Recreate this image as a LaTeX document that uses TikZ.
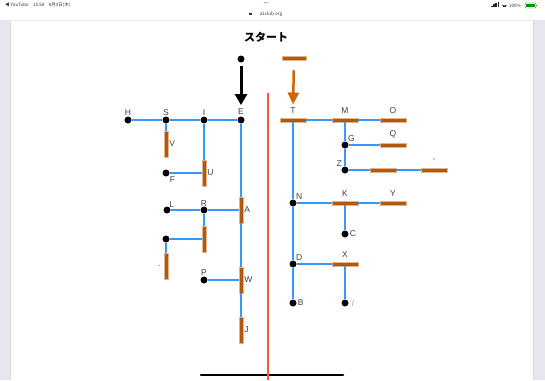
\documentclass[tikz,border=0pt]{standalone}
\usepackage{fontspec}
\setmainfont{Liberation Sans}
\newfontfamily\jpfont{Noto Sans CJK JP}
\usetikzlibrary{arrows.meta}
\definecolor{wireblue}{RGB}{51,153,255}
\definecolor{barbrown}{RGB}{178,90,10}
\definecolor{arroworange}{RGB}{204,102,10}
\definecolor{midred}{RGB}{255,85,51}
\definecolor{sidegray}{RGB}{230,230,236}

\begin{document}
\begin{tikzpicture}[x=1pt, y=-1pt,
    dot/.style={circle, fill=black, inner sep=0pt, minimum size=7pt},
    hbar/.style={rectangle, fill=barbrown, draw=barbrown!45, line width=0.5pt, inner sep=0pt, minimum width=26pt, minimum height=4pt},
    vbar/.style={rectangle, fill=barbrown, draw=barbrown!45, line width=0.5pt, inner sep=0pt, minimum width=4pt, minimum height=26pt},
    wire/.style={wireblue, line width=1.4pt},
    lbl/.style={font=\fontsize{8.5}{9}\selectfont, text=black!75, inner sep=1pt},
    status/.style={font=\jpfont\fontsize{4.5}{5}\selectfont, text=black!80, inner sep=0pt}]
    \useasboundingbox (0,0) rectangle (545,380);
    \fill[white] (0,0) rectangle (545,380);
    % screen frame
    \fill[sidegray] (0,20) rectangle (10,380);
    \fill[sidegray] (533,20) rectangle (545,380);
    \draw[black!15, line width=0.6pt] (10,20) -- (10,380);
    \draw[black!15, line width=0.6pt] (533,20) -- (533,380);
    \draw[black!8, line width=0.5pt] (10,20) -- (533,20);
    \node[status, anchor=west] (bar) at (5,5) {◀ YouTube\quad 15:58\quad 8月3日(木)};
    \node[status, text=black!50] (dots) at (266,4) {•••};
    \node[status] (site) at (271,14) {a1club.org};
    \fill[black!80] (248.5,12.8) rectangle (251.5,15.4);
    \draw[black!80, line width=0.4pt] (249.2,12.8) arc (180:0:0.8);
    \foreach \i in {0,1,2,3}
        \fill[black!85] (491+\i*2.2,7) rectangle ++(1.5,{-1.5-\i*1.1});
    \draw[black!85, line width=0.6pt] (502,5) arc (130:50:4);
    \draw[black!85, line width=0.6pt] (503.3,6.3) arc (130:50:2);
    \node[status] (batt) at (515,5.5) {100\%};
    \draw[black!60, line width=0.4pt, rounded corners=0.8pt] (525,3) rectangle (536,8);
    \fill[green!60!black] (526,4) rectangle (535,7);
    \fill[black!60] (536.3,4.6) rectangle (537.2,6.4);
    \draw[black, line width=2.5pt, line cap=round] (201,375) -- (343,375);
    \draw[midred, line width=1.2pt] (268,93) -- (268,380);

    \node[font=\jpfont\bfseries\fontsize{11}{12}\selectfont] (title) at (266,37) {スタート};

    % left tree
    \node[dot] (start) at (241,59) {};
    \node[dot, label={[lbl]above:H}] (H) at (128,120) {};
    \node[dot, label={[lbl]above:S}] (S) at (166,120) {};
    \node[dot, label={[lbl]above:I}] (I) at (204,120) {};
    \node[dot, label={[lbl, name=Elbl, label distance=1pt]above:E}] (E) at (241,120) {};
    \node[vbar, label={[lbl]right:V}] (V) at (166,144) {};
    \node[vbar, label={[lbl]right:U}] (U) at (204,173) {};
    \node[dot, label={[lbl]below right:F}] (F) at (166,173) {};
    \node[vbar, label={[lbl]right:A}] (A) at (241,210) {};
    \node[dot, label={[lbl, label distance=-2pt]above right:L}] (L) at (167,210) {};
    \node[dot, label={[lbl, label distance=-1pt]above:R}] (R) at (204,210) {};
    \node[vbar] (Rbar) at (204,239) {};
    \node[dot] (Q2) at (166,239) {};
    \node[vbar, label={[lbl, label distance=2pt]left:.}] (Dot) at (166,266) {};
    \node[dot, label={[lbl]above:P}] (P) at (204,280) {};
    \node[vbar, label={[lbl]right:W}] (W) at (241,280) {};
    \node[vbar, label={[lbl]right:J}] (J) at (241,330) {};

    % right tree
    \node[hbar, minimum width=24pt] (top) at (294,58) {};
    \node[hbar, label={[lbl, name=Tlbl, label distance=3pt]above:T}] (T) at (293,120) {};
    \node[hbar, label={[lbl, label distance=3pt]above:M}] (M) at (345,120) {};
    \node[hbar, label={[lbl, label distance=3pt]above:O}] (O) at (393,120) {};
    \node[dot, label={[lbl, label distance=-1pt]above right:G}] (G) at (345,145) {};
    \node[hbar, label={[lbl, label distance=3pt]above:Q}] (Q) at (393,145) {};
    \node[dot, label={[lbl, label distance=-1pt]above left:Z}] (Z) at (345,170) {};
    \node[hbar] (Z1) at (383,170) {};
    \node[hbar, label={[lbl, label distance=2pt]above:'}] (Z2) at (434,170) {};
    \node[dot, label={[lbl, label distance=-1pt]above right:N}] (N) at (293,203) {};
    \node[hbar, label={[lbl, label distance=3pt]above:K}] (K) at (345,203) {};
    \node[hbar, label={[lbl, label distance=3pt]above:Y}] (Y) at (393,203) {};
    \node[dot, label={[lbl]right:C}] (C) at (345,234) {};
    \node[dot, label={[lbl, label distance=-1pt]above right:D}] (D) at (293,264) {};
    \node[hbar, label={[lbl, label distance=3pt]above:X}] (X) at (345,264) {};
    \node[dot, label={[lbl]right:B}] (B) at (293,303) {};
    \node[dot, label={[lbl, text=black!40, label distance=2pt]right:/}] (Sl) at (345,303) {};

    \draw [-{Triangle[length=11pt, width=12pt]}, line width=3pt, shorten <=3pt, shorten >=2pt] (start) -- (Elbl);
    \draw [-{Triangle[length=12pt, width=11pt]}, line width=2.5pt, arroworange, shorten <=10pt, shorten >=2pt] (top) -- (Tlbl);

    \draw [wire] (H) -- (S);
    \draw [wire] (S) -- (I);
    \draw [wire] (I) -- (E);
    \draw [wire] (S) -- (V);
    \draw [wire] (I) -- (U);
    \draw [wire] (F) -- (U);
    \draw [wire] (E) -- (A);
    \draw [wire] (A) -- (W);
    \draw [wire] (W) -- (J);
    \draw [wire] (L) -- (R);
    \draw [wire] (R) -- (A);
    \draw [wire] (R) -- (Rbar);
    \draw [wire] (Q2) -- (Rbar);
    \draw [wire] (Q2) -- (Dot);
    \draw [wire] (P) -- (W);

    \draw [wire] (T) -- (M);
    \draw [wire] (M) -- (O);
    \draw [wire] (M) -- (G);
    \draw [wire] (G) -- (Z);
    \draw [wire] (G) -- (Q);
    \draw [wire] (Z) -- (Z1);
    \draw [wire] (Z1) -- (Z2);
    \draw [wire] (T) -- (N);
    \draw [wire] (N) -- (D);
    \draw [wire] (D) -- (B);
    \draw [wire] (N) -- (K);
    \draw [wire] (K) -- (Y);
    \draw [wire] (K) -- (C);
    \draw [wire] (D) -- (X);
    \draw [wire] (X) -- (Sl);
\end{tikzpicture}
\end{document}
